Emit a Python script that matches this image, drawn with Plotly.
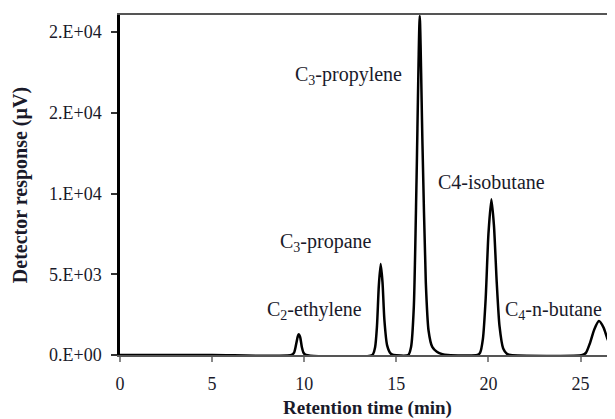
import plotly.graph_objects as go

# Retention time (min) and detector response (µV)
time_min = [0.0, 5.0, 9.3, 9.45, 9.55, 9.65, 9.7, 9.78, 9.87, 9.97, 10.1,
            13.7, 13.85, 13.95, 14.05, 14.15, 14.25, 14.35, 14.5, 14.7, 14.85,
            15.65, 15.8, 15.95, 16.1, 16.27, 16.42, 16.6, 16.75, 16.95, 17.2, 17.5, 17.8,
            19.4, 19.55, 19.7, 19.85, 20.0, 20.16, 20.3, 20.45, 20.6, 20.8, 21.0, 21.2,
            25.1, 25.3, 25.5, 25.75, 26.0, 26.25, 26.5, 26.9]
response_uv = [0, 0, 0, 150, 600, 1150, 1280, 1100, 500, 120, 0,
               0, 500, 1800, 4300, 5630, 4500, 2200, 600, 80, 0,
               0, 500, 3000, 11000, 21000, 13000, 4500, 1500, 500, 200, 50, 0,
               0, 150, 1000, 3500, 7500, 9650, 8000, 4500, 1800, 400, 80, 0,
               0, 150, 700, 1600, 2100, 1700, 900, 300]

peak_labels = ["C<sub>2</sub>-ethylene", "C<sub>3</sub>-propane", "C<sub>3</sub>-propylene",
               "C4-isobutane", "C<sub>4</sub>-n-butane"]
label_x = [10.58, 11.2, 12.4, 20.15, 23.55]
label_y = [2750, 6950, 17300, 10700, 2750]

x_ticks = [0, 5, 10, 15, 20, 25]
y_ticks = [0, 5000, 10000, 15000, 20000]
y_tick_text = ["0.E+00", "5.E+03", "1.E+04", "2.E+04", "2.E+04"]

fig = go.Figure()
fig.add_trace(go.Scatter(x=time_min, y=response_uv, mode="lines",
                         line=dict(color="black", width=2.5, shape="spline", smoothing=0.6),
                         cliponaxis=True, showlegend=False))

for t, x, y in zip(peak_labels, label_x, label_y):
    fig.add_annotation(x=x, y=y, text=t, showarrow=False,
                       font=dict(family="Liberation Serif", size=20, color="#1a1a2a"))

# page body has an 8px default margin; figure sized to fill the rest of the window
fig.update_layout(
    width=607, height=411,
    margin=dict(l=112, r=0, t=7, b=64),
    paper_bgcolor="white", plot_bgcolor="white",
    font=dict(family="Liberation Serif", color="#1a1a2a"),
    xaxis=dict(range=[0, 26.87], tickvals=x_ticks, ticks="outside", ticklen=5,
               tickcolor="#888", tickwidth=1.5,
               showline=True, linecolor="#555", linewidth=2, mirror=True,
               showgrid=False, zeroline=False, tickfont=dict(size=18),
               ticklabelstandoff=6,
               title=dict(text="<b>Retention time (min)</b>", font=dict(size=19), standoff=8)),
    yaxis=dict(range=[0, 21060], tickvals=y_ticks, ticktext=y_tick_text,
               ticks="outside", ticklen=6, tickcolor="#333", tickwidth=1.5,
               showline=True, linecolor="black", linewidth=2.5, mirror=False,
               showgrid=False, zeroline=False, tickfont=dict(size=18),
               ticklabelstandoff=6,
               title=dict(text="<b>Detector response (µV)</b>", font=dict(size=20), standoff=16)),
)

fig.write_html("out.html")
